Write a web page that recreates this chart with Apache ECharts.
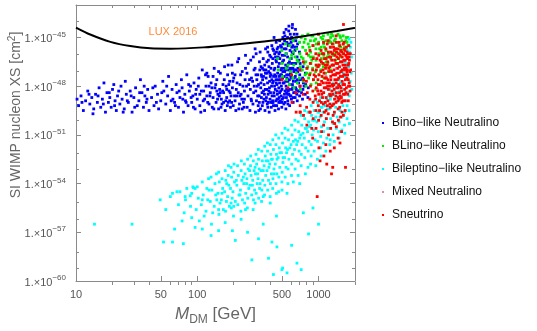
<!DOCTYPE html>
<html>
<head>
<meta charset="utf-8">
<script src="https://cdn.jsdelivr.net/npm/echarts@6/dist/echarts.min.js"></script>
<style>html,body{margin:0;padding:0;background:#fff}#main{width:537px;height:331px}</style>
</head>
<body>
<div id="main"></div>
<script>
// points: [mass in GeV, log10 of XS in cm^2]
var binoPts = [
  [10.2,-48.8],[10.5,-49.2],[11,-48.6],[11.2,-49.0],[11.5,-49.5],[12,-48.9],[12.5,-48.3],[12.8,-48.5],[13,-49.1],[13.5,-48.7],[13.8,-49.7],[14,-49.4],[14.5,-48.5],[15,-49.0],[15.2,-48.6],[15.5,-48.1],[16,-49.3],[16.5,-48.8],[16.8,-49.1],[17,-47.8],[17.5,-49.6],[18,-48.4],[18.5,-49.0],[18.8,-48.4],[19,-48.7],[19.5,-49.3],[20,-48.2],[20.5,-47.9],[20.8,-49.2],[21,-48.9],[21.5,-49.5],[22,-48.6],[22.5,-48.3],[23,-49.1],[23.5,-48.0],[24,-48.8],[24.5,-49.6],[25,-49.4],[25.5,-47.7],[26,-48.5],[26.5,-48.9],[27,-49.0],[28,-48.3],[28.5,-48.6],[29,-49.6],[30,-48.7],[30.5,-49.3],[31,-48.1],[32,-49.2],[33,-48.9],[33.5,-48.4],[34,-47.6],[35,-48.4],[36,-49.3],[36.5,-48.0],[37,-48.6],[38,-49.0],[38.5,-48.8],[39,-48.2],[40,-49.5],
  [42,-48.7],[43,-48.1],[44,-49.2],[45,-48.0],[46,-49.0],[47,-48.5],[48,-49.4],[50,-48.9],[51,-48.4],[52,-47.7],[53,-48.3],[55,-49.1],[56,-48.0],[57,-48.6],[58,-47.4],[60,-49.5],[61,-48.9],[62,-48.2],[63,-48.8],[65,-49.0],[66,-49.2],[67,-47.9],[68,-48.4],[70,-49.3],[71,-48.3],[72,-48.7],[74,-47.6],[75,-48.1],[76,-48.8],[77,-49.6],[79,-48.5],[80,-48.9],[81,-49.0],[82,-47.3],[84,-49.2],[85,-47.9],[86,-48.3],[88,-48.0],[89,-48.7],[90,-49.0],[92,-48.6],[93,-49.3],[94,-47.8],[96,-49.4],[97,-48.5],[98,-48.2],
  [100,-48.8],[102,-48.0],[103,-47.5],[105,-49.2],[107,-49.6],[108,-48.3],[110,-47.0],[112,-48.9],[113,-48.3],[115,-49.5],[117,-47.3],[118,-48.0],[120,-48.6],[122,-49.0],[123,-47.4],[125,-49.1],[127,-48.6],[128,-48.4],[130,-47.8],[132,-48.1],[133,-49.3],[135,-48.7],[137,-49.4],[138,-46.9],[140,-48.1],[142,-47.9],[143,-49.0],[145,-47.6],[147,-48.8],[148,-48.5],[150,-49.4],[152,-48.6],[153,-48.2],[155,-47.2],[157,-49.3],[158,-48.8],[160,-49.1],[162,-48.3],[163,-47.9],[165,-48.4],[167,-47.6],[168,-46.8],[170,-49.5],[172,-48.9],[173,-48.0],[175,-48.7],[177,-49.2],[178,-47.3],[180,-49.0],[182,-47.9],[183,-48.3],[185,-47.7],[187,-48.4],[188,-49.3],[190,-48.6],[192,-49.0],[193,-46.7],[195,-48.1],[197,-47.7],[198,-49.2],[200,-47.5],[203,-48.6],[205,-48.9],[208,-49.5],[210,-48.2],[213,-47.8],[215,-46.5],[218,-48.4],[220,-49.4],[223,-49.1],[225,-47.9],[228,-47.3],[230,-48.5],[233,-48.8],[235,-47.1],[238,-48.0],[240,-49.0],[243,-49.3],[245,-48.3],[248,-47.6],[250,-46.9],
  [258,-49.3],[262,-48.6],[265,-47.9],[257,-47.2],[263,-46.6],[272,-49.5],[278,-48.8],[274,-48.2],[280,-47.5],[276,-46.4],[288,-49.1],[292,-48.4],[286,-47.7],[294,-47.0],[290,-46.2],[302,-49.6],[308,-48.9],[304,-48.3],[310,-47.6],[300,-46.9],[306,-46.0],
  [318,-49.2],[324,-48.6],[320,-47.9],[316,-47.3],[326,-46.5],[332,-49.4],[338,-48.7],[334,-48.1],[340,-47.4],[336,-46.8],[330,-45.9],[348,-49.0],[352,-48.3],[346,-47.6],[354,-47.0],[350,-46.3],[362,-49.5],[368,-48.9],[364,-48.2],[370,-47.5],[360,-46.7],[366,-45.7],
  [378,-49.1],[384,-48.5],[380,-47.8],[376,-47.2],[386,-46.4],[382,-45.9],[392,-49.6],[398,-48.8],[394,-48.1],[400,-47.4],[390,-46.8],[396,-46.1],[408,-49.3],[414,-48.6],[410,-48.0],[406,-47.3],[416,-46.6],[412,-45.5],
  [422,-49.0],[428,-48.4],[424,-47.7],[430,-47.0],[420,-46.3],[426,-45.8],[438,-49.5],[444,-48.9],[440,-48.2],[446,-47.6],[436,-46.9],[442,-46.2],[448,-45.3],[452,-49.2],[458,-48.5],[454,-47.9],[460,-47.2],[450,-46.5],[456,-45.7],
  [468,-49.4],[474,-48.7],[470,-48.1],[476,-47.4],[466,-46.8],[472,-46.0],[478,-45.2],[482,-49.0],[488,-48.3],[484,-47.6],[490,-47.0],[480,-46.3],[486,-45.5],[498,-49.3],[504,-48.8],[500,-48.2],[506,-47.5],[496,-46.9],[502,-46.1],[508,-45.0],
  [518,-49.1],[524,-48.5],[520,-47.8],[526,-47.1],[516,-46.4],[522,-45.7],[528,-44.9],[538,-49.4],[544,-48.7],[540,-48.0],[546,-47.3],[536,-46.7],[542,-46.0],[548,-45.3],[558,-48.9],[564,-48.3],[560,-47.7],[566,-47.0],[556,-46.2],[562,-45.5],[568,-44.6],
  [578,-49.2],[584,-48.6],[580,-47.9],[586,-47.2],[576,-46.5],[582,-45.8],[588,-45.1],[598,-48.8],[604,-48.2],[600,-47.5],[606,-46.9],[596,-46.3],[602,-45.6],[608,-44.4],[618,-49.0],[624,-48.4],[620,-47.7],[626,-47.1],[616,-46.0],[622,-45.2],
  [642,-48.7],[648,-48.1],[644,-47.4],[650,-46.6],[640,-45.8],[646,-44.5],[668,-48.9],[674,-48.3],[670,-47.6],[676,-46.9],[666,-46.2],[672,-45.4],[698,-48.6],[704,-48.0],[700,-47.3],[706,-46.6],[696,-45.9],[738,-48.8],[744,-48.2],[740,-47.5],[746,-46.8],[778,-48.5],[784,-47.9],[780,-47.2],[818,-48.7],[824,-48.1],
  [430,-45.0],[520,-44.7],[570,-44.3],[610,-44.2],[540,-44.5],[380,-45.6],[300,-45.7],[250,-46.1],[220,-46.3],[180,-46.7],[150,-47.1],[120,-47.2],
  [312,-48.0],[328,-47.0],[342,-48.4],[356,-47.9],[372,-48.7],[388,-47.1],[402,-48.4],[418,-47.8],[432,-48.6],[447,-47.4],[462,-48.8],[477,-47.8],[492,-48.6],[510,-47.8],[530,-48.3],[550,-47.5],[570,-48.5],[590,-47.4],[612,-48.1],[632,-47.5],[655,-48.2],[685,-47.8],
  [325,-49.0],[345,-46.9],[365,-47.2],[385,-49.0],[405,-46.9],[425,-49.2],[445,-46.4],[465,-46.2],[485,-48.9],[505,-46.5],[525,-46.1],[545,-48.4],[565,-46.6],[585,-46.9],[605,-45.9],[625,-46.6],[650,-47.0],[690,-46.4],[715,-47.0],[760,-48.0],
  [335,-47.8],[355,-48.8],[375,-46.5],[395,-47.7],[415,-49.0],[435,-47.3],[455,-48.8],[475,-46.6],[495,-47.3],[515,-46.9],[535,-47.0],[555,-48.5],[575,-47.6],[595,-45.3],[615,-46.9],[635,-45.6],[660,-45.6],
  [295,-48.0],[280,-48.9],[270,-47.6],[255,-48.0],[245,-48.8],[235,-49.4],[225,-48.6],[212,-48.6],[205,-47.3],[195,-47.2],[185,-48.9],[175,-48.2],[165,-49.0],[155,-48.4],[145,-48.3],[135,-47.4],[125,-48.0],[115,-48.8],[105,-48.5],
  [305,-47.3],[315,-48.6],[322,-49.5],[338,-47.3],[344,-49.2],[352,-47.4],[358,-48.5],[368,-47.0],[374,-48.2],[382,-49.3],[390,-48.3],[398,-47.2],[404,-49.0],[412,-47.6],[418,-48.9],[426,-47.4],[434,-48.0],[440,-49.2],[448,-47.8],[456,-48.3],[464,-47.6],[470,-49.0],[478,-48.4],[486,-47.3],[494,-48.0],[500,-49.0],[508,-47.1],[514,-48.7],[522,-47.4],[530,-49.0],[538,-47.7],[546,-48.2],[552,-46.8],[560,-49.1],[568,-47.3],[576,-48.2],[584,-47.0],[592,-48.6],[600,-46.6],[610,-47.9],[620,-48.7],[630,-47.0],[640,-48.4],[652,-47.7],[662,-48.5],[675,-47.1],[690,-48.3],[710,-47.6],[725,-48.4],[750,-47.8],
  [405,-46.2],[420,-45.7],[435,-46.0],[450,-45.9],[465,-45.6],[480,-45.9],[495,-45.6],[510,-45.4],[525,-45.2],[540,-45.7],[555,-45.0],[570,-45.4],[585,-44.8],[600,-45.0],[615,-45.5],[630,-44.8],[650,-45.2],[665,-44.8]
];
var blinoPts = [
  [460,-46.3],[465,-47.0],[498,-45.8],[502,-46.6],[506,-47.4],[538,-46.0],[542,-46.9],[546,-47.6],[535,-45.4],[578,-45.5],[582,-46.3],[586,-47.1],[575,-47.9],
  [618,-45.2],[622,-45.9],[626,-46.7],[615,-47.5],[628,-48.1],[658,-45.0],[662,-45.7],[666,-46.4],[655,-47.2],[668,-47.8],[698,-45.3],[702,-46.0],[706,-46.8],[695,-47.5],[708,-48.2],
  [738,-44.9],[742,-45.6],[746,-46.3],[735,-47.0],[748,-47.7],[778,-45.1],[782,-45.8],[786,-46.5],[775,-47.3],[788,-48.0],[818,-44.8],[822,-45.4],[826,-46.1],[815,-46.8],[828,-47.5],
  [858,-45.2],[862,-45.9],[866,-46.6],[855,-47.2],[868,-47.9],[898,-44.9],[902,-45.5],[906,-46.2],[895,-46.9],[908,-47.6],[948,-45.1],[952,-45.7],[956,-46.4],[945,-47.1],[958,-47.8],
  [998,-44.8],[1002,-45.3],[1006,-46.0],[995,-46.7],[1008,-47.3],[1048,-45.0],[1052,-45.6],[1056,-46.3],[1045,-47.0],[1098,-44.9],[1102,-45.4],[1106,-46.1],[1095,-46.8],[1108,-47.5],
  [1148,-45.2],[1152,-45.8],[1156,-46.5],[1145,-47.2],[1198,-44.8],[1202,-45.3],[1206,-46.0],[1195,-46.6],[1258,-45.0],[1262,-45.6],[1266,-46.3],[1255,-47.0],
  [1318,-44.9],[1322,-45.4],[1326,-46.1],[1315,-46.7],[1378,-45.1],[1382,-45.7],[1386,-46.4],[1448,-44.8],[1452,-45.3],[1456,-46.0],[1445,-46.6],
  [1518,-45.0],[1522,-45.6],[1526,-46.2],[1598,-44.9],[1602,-45.4],[1606,-46.0],[1678,-45.2],[1682,-45.7],[1748,-45.0],[1752,-45.5],
  [720,-45.0],[880,-44.9],[1080,-45.1],[1280,-44.8],[1500,-44.9],[800,-47.2],[950,-48.2],[600,-46.1],
  [720,-46.2],[760,-45.3],[800,-46.9],[840,-45.6],[880,-46.4],[920,-45.2],[970,-46.8],[1020,-45.7],[1070,-46.6],[1120,-45.6],[1180,-46.2],[1230,-45.2],[1290,-46.0],[1350,-45.2],[1420,-45.9],[1480,-45.5],[1560,-45.2],[1640,-45.6],[1720,-45.3],
  [680,-46.5],[640,-46.2],[560,-46.7],[760,-46.6],[860,-46.2],[960,-45.4],[1060,-46.0],[1160,-46.8],[1260,-45.3],[1360,-46.0],[1460,-46.3],[1560,-45.8],[1700,-45.0]
];
var bileptinoPts = [
  [14.2,-56.5],[29,-56.5],[49.5,-55.0],[52.7,-57.6],[62.5,-57.6],[62.5,-54.6],[68,-54.5],[76.8,-57.7],[79.5,-54.8],[87.5,-54.75],[90,-56.1],[92,-54.2],[93,-54.25],[96,-54.3],[96,-56.7],
  [150,-56.9],[195,-56.9],[206,-57.5],[282,-58.7],[320,-57.4],[387,-58.6],[413,-57.6],[425,-59.6],[454,-57.9],[499,-59.3],[506,-59.2],[550,-59.5],[664,-58.9],[720,-59.3],[828,-57.1],[1000,-56.5],
  [60,-54.8],[70,-55.3],[72,-54.5],[80,-55.0],[82,-54.3],[78,-55.8],[90,-54.6],[88,-55.4],[100,-54.2],[102,-54.9],[98,-55.6],[104,-56.3],[110,-53.9],[112,-54.7],[108,-55.3],[114,-56.0],
  [120,-54.3],[122,-55.0],[118,-55.7],[124,-53.7],[130,-53.6],[132,-54.4],[128,-55.1],[134,-55.8],[131,-56.5],[140,-54.0],[142,-54.7],[138,-55.4],[144,-53.4],
  [150,-53.3],[152,-53.9],[148,-54.6],[154,-55.2],[151,-55.9],[160,-53.7],[162,-54.3],[158,-55.0],[164,-55.6],[170,-53.2],[172,-53.8],[168,-54.5],[174,-55.1],[171,-55.7],
  [180,-53.5],[182,-54.1],[178,-54.8],[184,-55.4],[181,-52.9],[190,-53.0],[192,-53.6],[188,-54.3],[194,-54.9],[191,-55.5],[200,-53.3],[203,-53.9],[197,-54.5],[206,-55.1],[201,-52.8],[199,-56.0],
  [215,-52.9],[218,-53.5],[212,-54.1],[221,-54.7],[216,-55.3],[230,-53.2],[233,-53.8],[227,-54.4],[236,-55.0],[231,-52.6],[229,-55.7],[245,-52.8],[248,-53.4],[242,-54.0],[251,-54.6],[246,-55.2],
  [260,-52.5],[263,-53.1],[257,-53.7],[266,-54.3],[261,-54.9],[259,-55.5],[275,-52.9],[278,-53.5],[272,-54.1],[281,-54.7],[276,-52.3],[290,-52.6],[294,-53.2],[287,-53.8],[297,-54.4],[291,-55.0],[289,-55.6],
  [305,-52.2],[309,-52.8],[302,-53.4],[312,-54.0],[306,-54.6],[320,-52.5],[324,-53.1],[317,-53.7],[327,-54.3],[321,-54.9],[319,-51.9],[340,-52.0],[344,-52.6],[336,-53.2],[347,-53.8],[341,-54.4],[339,-55.1],
  [360,-51.7],[364,-52.3],[356,-52.9],[367,-53.5],[361,-54.1],[359,-54.7],[380,-52.0],[384,-52.6],[376,-53.2],[387,-53.8],[381,-54.4],[379,-51.5],[400,-51.6],[405,-52.2],[396,-52.8],[409,-53.4],[401,-54.0],[399,-54.8],
  [420,-51.3],[425,-51.9],[416,-52.5],[429,-53.1],[421,-53.7],[419,-54.3],[445,-51.6],[450,-52.2],[440,-52.8],[454,-53.4],[446,-54.0],[444,-51.0],[470,-51.2],[475,-51.8],[465,-52.4],[479,-53.0],[471,-53.6],[469,-54.5],
  [500,-50.9],[505,-51.5],[495,-52.1],[509,-52.7],[501,-53.3],[499,-53.9],[530,-51.2],[536,-51.8],[525,-52.4],[540,-53.0],[531,-53.6],[529,-50.6],[560,-50.7],[566,-51.3],[555,-51.9],[570,-52.5],[561,-53.1],[559,-54.0],
  [600,-50.4],[606,-51.0],[594,-51.6],[611,-52.2],[601,-52.8],[599,-53.5],[640,-50.7],[646,-51.3],[634,-51.9],[651,-52.5],[641,-53.1],[639,-50.1],[680,-50.2],[687,-50.8],[674,-51.4],[692,-52.0],[681,-52.6],[679,-53.5],
  [720,-49.8],[727,-50.4],[714,-51.0],[733,-51.6],[721,-52.2],[719,-52.9],[770,-50.0],[778,-50.6],[763,-51.2],[784,-51.8],[771,-52.4],[769,-49.5],[820,-49.6],[828,-50.2],[812,-50.8],[835,-51.4],[821,-52.0],[819,-53.0],
  [870,-49.2],[878,-49.8],[862,-50.4],[886,-51.0],[871,-51.6],[869,-52.3],[920,-49.5],[929,-50.1],[911,-50.7],[937,-51.3],[921,-52.0],[919,-48.9],[980,-49.0],[990,-49.6],[970,-50.2],[998,-50.8],[981,-51.4],[979,-52.5],
  [1040,-48.7],[1050,-49.3],[1030,-49.9],[1060,-50.5],[1041,-51.1],[1039,-51.8],[1100,-48.4],[1111,-49.0],[1090,-49.6],[1120,-50.2],[1101,-50.8],[1099,-51.5],[1170,-48.8],[1181,-49.4],[1158,-50.0],[1191,-50.6],[1171,-51.2],[1169,-48.1],
  [1240,-48.2],[1252,-48.8],[1228,-49.4],[1262,-50.0],[1241,-50.6],[1239,-51.6],[1320,-47.8],[1333,-48.5],[1307,-49.1],[1344,-49.7],[1321,-50.3],[1319,-51.0],[1400,-48.1],[1414,-48.7],[1386,-49.3],[1425,-49.9],[1401,-50.6],
  [1480,-47.6],[1495,-48.3],[1465,-48.9],[1507,-49.5],[1481,-50.2],[1479,-51.2],[1560,-47.0],[1576,-47.9],[1544,-48.6],[1588,-49.2],[1561,-49.9],[1559,-50.7],[1640,-46.5],[1657,-47.4],[1623,-48.2],[1670,-48.9],[1641,-49.6],[1639,-50.4],
  [1720,-45.8],[1737,-46.6],[1703,-47.5],[1752,-48.4],[1721,-49.2],[1719,-50.0],[1790,-45.1],[1808,-45.9],[1772,-46.8],[1823,-47.7],[1791,-48.6],[1789,-49.5],[1850,-45.3],[1870,-46.2],[1860,-47.2],[1880,-48.2],
  [110,-55.0],[125,-54.4],[145,-55.0],[160,-54.6],[175,-54.0],[190,-55.2],[210,-53.8],[225,-54.7],[240,-53.6],[255,-54.0],[270,-53.2],[285,-54.1],[300,-53.0],[315,-53.4],[330,-54.0],[350,-53.2],[370,-52.6],[390,-53.0],[410,-52.5],[430,-53.4],[455,-52.5],[480,-52.1],[510,-52.4],[545,-52.1],[580,-51.8],[620,-51.4],[660,-51.6],[700,-51.2],[745,-50.9],[795,-50.6],[845,-50.5],[895,-50.1],[950,-49.9],[1010,-49.6],[1070,-49.3],[1135,-49.2],[1205,-48.6],[1280,-48.6],[1360,-48.4],[1440,-48.0],[1520,-47.8],[1600,-47.2],[1680,-46.8],[1760,-46.3],[1830,-45.6],
  [150,-55.6],[200,-55.4],[250,-55.6],[300,-55.2],[350,-54.8],[400,-55.2],[450,-54.6],[500,-54.4],[550,-54.6],[620,-53.9],[700,-54.0],[780,-53.4],[860,-52.8],[950,-52.9],[1050,-52.3],[1150,-52.0],[1250,-51.3],[1350,-51.4],[1500,-50.8],[1650,-50.9],[1800,-50.3],
  [55,-55.6],[65,-56.8],[75,-56.3],[110,-56.8],[130,-57.2],[170,-56.4],[230,-56.2],[260,-57.0],[350,-56.5],[450,-56.0],[600,-57.8],[750,-55.8],[900,-55.5]
];
var mixedPts = [
  [980,-48.2],[1150,-47.4],[1400,-46.9],[1600,-47.8]
];
var sneutrinoPts = [
  [500,-47.6],[560,-48.1],[600,-47.3],[604,-49.0],[650,-48.4],[654,-49.6],[700,-47.0],[704,-48.0],[706,-49.2],[706,-49.6],
  [750,-46.5],[754,-47.6],[746,-48.5],[752,-49.8],[800,-46.0],[805,-46.9],[795,-47.7],[808,-48.4],[798,-49.3],[802,-50.4],
  [850,-45.8],[855,-46.6],[845,-47.3],[858,-48.0],[848,-48.8],[852,-49.6],[850,-49.6],[900,-45.5],[905,-46.3],[895,-47.0],[908,-47.6],[898,-48.3],[902,-49.0],[904,-50.0],[896,-51.2],
  [950,-46.0],[955,-46.7],[945,-47.4],[958,-48.1],[948,-48.8],[952,-49.5],[954,-50.6],[1000,-45.4],[1006,-46.1],[994,-46.8],[1010,-47.3],[998,-47.9],[1004,-48.5],[996,-49.2],[1002,-50.1],[1008,-51.8],
  [1050,-45.8],[1056,-46.5],[1044,-47.1],[1060,-47.7],[1048,-48.3],[1054,-49.0],[1052,-49.8],[1100,-45.3],[1106,-46.0],[1094,-46.6],[1110,-47.2],[1098,-47.8],[1104,-48.4],[1096,-49.1],[1102,-50.4],[1108,-52.3],
  [1150,-45.7],[1157,-46.3],[1143,-46.9],[1162,-47.5],[1148,-48.1],[1155,-48.7],[1153,-49.5],[1200,-45.2],[1207,-45.9],[1193,-46.5],[1212,-47.1],[1198,-47.6],[1205,-48.2],[1196,-48.9],[1203,-49.7],[1210,-51.0],
  [1250,-45.6],[1258,-46.2],[1242,-46.8],[1263,-47.4],[1248,-48.0],[1255,-48.6],[1252,-49.3],[1300,-45.4],[1308,-46.0],[1292,-46.7],[1314,-47.3],[1298,-47.9],[1306,-48.5],[1296,-49.2],[1304,-50.2],[1310,-53.0],
  [1350,-45.8],[1358,-46.4],[1342,-47.0],[1364,-47.6],[1348,-48.2],[1356,-48.8],[1352,-49.6],[1400,-45.3],[1409,-45.9],[1391,-46.6],[1415,-47.2],[1398,-47.8],[1406,-48.4],[1396,-49.0],[1404,-50.5],
  [1450,-45.7],[1459,-46.3],[1441,-46.9],[1466,-47.5],[1448,-48.1],[1456,-48.7],[1452,-49.4],[1500,-45.5],[1510,-46.1],[1490,-46.8],[1516,-47.4],[1498,-48.0],[1506,-48.6],[1496,-49.3],[1504,-51.5],
  [1550,-45.9],[1560,-46.5],[1540,-47.1],[1566,-47.7],[1548,-48.3],[1556,-49.0],[1600,-45.4],[1610,-46.0],[1590,-46.7],[1617,-47.3],[1598,-47.9],[1606,-48.5],[1604,-49.8],
  [1650,-45.8],[1661,-46.4],[1639,-47.0],[1667,-47.6],[1648,-48.2],[1656,-48.9],[1700,-45.6],[1711,-46.2],[1689,-46.9],[1718,-47.5],[1698,-48.1],[1750,-46.0],[1762,-46.7],[1738,-47.3],[1768,-48.0],[1800,-46.4],[1812,-47.1],
  [1607,-44.2],[1000,-44.8],[1400,-44.9],
  [706,-49.6],[1030,-52.6],[1170,-52.8],[1670,-53.0],[1280,-53.4],[975,-54.8],[1150,-51.6],[1350,-51.8],[1450,-51.2],[1250,-52.0],[880,-50.6],[1550,-50.8],
  [920,-47.3],[940,-48.6],[970,-46.3],[990,-47.6],[1020,-48.9],[1030,-46.4],[1070,-47.4],[1080,-48.7],[1120,-46.3],[1130,-47.5],[1140,-49.0],[1180,-46.7],[1190,-48.0],[1220,-46.2],[1230,-47.8],[1240,-49.1],[1270,-45.9],[1280,-47.1],[1290,-48.3],[1330,-46.7],[1340,-47.9],[1370,-46.1],[1380,-47.3],[1390,-48.6],[1420,-46.2],[1430,-47.6],[1440,-48.9],[1470,-46.0],[1480,-47.2],[1490,-48.4],[1520,-45.8],[1530,-47.1],[1545,-48.7],[1570,-46.2],[1580,-47.4],[1620,-45.7],[1630,-46.9],[1645,-48.5],[1675,-46.1],[1690,-47.3],[1720,-45.9],[1730,-47.0],[1740,-48.5],[1780,-46.6],[1790,-47.8],[1830,-46.0],[1840,-47.0],[1820,-48.3],
  [1060,-50.8],[1160,-50.0],[1260,-50.6],[1360,-50.3],[1460,-50.1],[1560,-49.6],[1660,-49.5],[1760,-48.9],[1120,-49.6],[1320,-49.8],[1520,-49.9],[1020,-49.5],[1080,-46.0],[1180,-45.4],[1330,-45.6],[1480,-45.3],[1630,-45.3],[1780,-45.5],
  [960,-47.0],[985,-48.3],[1015,-46.7],[1035,-47.9],[1065,-48.5],[1090,-47.0],[1115,-48.1],[1135,-46.7],[1165,-47.8],[1185,-49.2],[1215,-46.9],[1235,-48.5],[1265,-47.6],[1285,-46.4],[1315,-48.0],[1335,-49.1],[1365,-47.3],[1385,-45.7],[1415,-48.1],[1435,-46.6],[1465,-47.9],[1485,-48.8],[1515,-46.5],[1535,-48.1],[1565,-47.0],[1585,-48.9],[1615,-46.4],[1640,-47.9],[1665,-46.7],[1685,-48.4],[1715,-47.1],[1735,-46.3],[1760,-47.6],[1790,-46.2],[1810,-48.0]
];

var luxMass = [10, 13.1, 19.2, 28, 41, 60, 113, 212, 400, 752, 1419, 1968, 2000];
var luxXs = [-44.39, -44.82, -45.27, -45.53, -45.67, -45.69, -45.61, -45.42, -45.20, -44.92, -44.60, -44.42, -44.41];

var seriesNames = ['Bino−like Neutralino', 'BLino−like Neutralino', 'Bileptino−like Neutralino', 'Mixed Neutralino', 'Sneutrino'];
var seriesColors = ['#0000ff', '#00ee00', '#00ffff', '#e58aa8', '#ff0000'];
var seriesPts = [binoPts, blinoPts, bileptinoPts, mixedPts, sneutrinoPts];

var xLabelVals = [10, 50, 100, 500, 1000];
var xMinorVals = [20, 30, 40, 60, 70, 80, 90, 200, 300, 400, 600, 700, 800, 900, 2000];
var yLabelVals = [-60, -57, -54, -51, -48, -45];
var yMinorVals = [-59, -58, -56, -55, -53, -52, -50, -49, -47, -46, -44];

var lg = Math.log10;
var xMin = 1, xMax = lg(2000), yMin = -60, yMax = -43;
var frameCol = '#8a8a8a';
var labelCol = '#555';

function xAxisCfg(grid, pos, tickVals, len, withLabel) {
    var a = {
        gridIndex: grid, type: 'value', position: pos, min: xMin, max: xMax,
        splitLine: {show: false},
        axisLine: {show: grid === 0, lineStyle: {color: frameCol, width: 1}},
        axisTick: {show: true, inside: true, length: len, customValues: tickVals.map(lg), lineStyle: {color: frameCol}},
        axisLabel: {show: false}
    };
    if (withLabel) {
        a.axisLabel = {
            show: true, customValues: xLabelVals.map(lg), margin: 8,
            color: labelCol, fontSize: 11, fontFamily: 'Liberation Sans',
            formatter: function (v) { return String(Math.round(Math.pow(10, v))); }
        };
        a.name = '{i|M}{s|DM} [GeV]';
        a.nameLocation = 'middle';
        a.nameGap = 25;
        a.nameTextStyle = {
            color: '#666', fontSize: 17, fontFamily: 'Liberation Sans',
            rich: {
                i: {fontSize: 17, fontStyle: 'italic', color: '#666', fontFamily: 'Liberation Sans', verticalAlign: 'bottom'},
                s: {fontSize: 12, color: '#666', fontFamily: 'Liberation Sans', verticalAlign: 'bottom', padding: [0, 0, -3, 0]}
            }
        };
    }
    return a;
}

function yAxisCfg(grid, pos, tickVals, len, withLabel) {
    var a = {
        gridIndex: grid, type: 'value', position: pos, min: yMin, max: yMax,
        splitLine: {show: false},
        axisLine: {show: grid === 0, lineStyle: {color: frameCol, width: 1}},
        axisTick: {show: true, inside: true, length: len, customValues: tickVals, lineStyle: {color: frameCol}},
        axisLabel: {show: false}
    };
    if (withLabel) {
        a.axisLabel = {
            show: true, customValues: yLabelVals, margin: 10,
            formatter: function (v) { return '{a|1.×10}{b|−' + Math.abs(Math.round(v)) + '}'; },
            rich: {
                a: {fontSize: 11, color: labelCol, fontFamily: 'Liberation Sans', verticalAlign: 'bottom'},
                b: {fontSize: 8, color: labelCol, fontFamily: 'Liberation Sans', verticalAlign: 'bottom', padding: [0, 0, 6, 0]}
            }
        };
    }
    return a;
}

var chart = echarts.init(document.getElementById('main'));

var series = seriesNames.map(function (name, i) {
    return {
        name: name, type: 'scatter', xAxisIndex: 0, yAxisIndex: 0,
        symbol: 'rect', symbolSize: 2.8, silent: true,
        itemStyle: {color: seriesColors[i], opacity: 1},
        data: seriesPts[i].map(function (p) { return [lg(p[0]), p[1]]; })
    };
});
series.push({
    name: 'LUX 2016', type: 'line', xAxisIndex: 0, yAxisIndex: 0,
    smooth: 0.3, showSymbol: false, silent: true, z: 5,
    lineStyle: {color: '#000', width: 2},
    data: luxMass.map(function (m, i) { return [lg(m), luxXs[i]]; })
});

var option = {
    animation: false,
    backgroundColor: '#fff',
    grid: [
        {left: 76, top: 5, width: 279, height: 280},
        {left: 76, top: 5, width: 279, height: 280}
    ],
    xAxis: [
        xAxisCfg(0, 'bottom', xLabelVals, 5, true),
        xAxisCfg(0, 'top', xLabelVals, 5, false),
        xAxisCfg(1, 'bottom', xMinorVals, 3, false),
        xAxisCfg(1, 'top', xMinorVals, 3, false)
    ],
    yAxis: [
        yAxisCfg(0, 'left', yLabelVals, 5, true),
        yAxisCfg(0, 'right', yLabelVals, 5, false),
        yAxisCfg(1, 'left', yMinorVals, 3, false),
        yAxisCfg(1, 'right', yMinorVals, 3, false)
    ],
    legend: {
        data: seriesNames,
        orient: 'vertical', left: 377, top: 111,
        icon: 'rect', itemWidth: 2, itemHeight: 2, itemGap: 9,
        selectedMode: false,
        textStyle: {color: '#111', fontSize: 12, fontFamily: 'Liberation Sans', lineHeight: 14, padding: [0, 0, 0, 3]}
    },
    graphic: [
        {
            type: 'text', x: 173, y: 32, silent: true,
            style: {text: 'LUX 2016', fill: '#ff8c3a', font: '11px "Liberation Sans"', align: 'center', verticalAlign: 'middle'}
        },
        {
            type: 'text', x: 15, y: 115, rotation: Math.PI / 2, silent: true,
            style: {
                text: '{t|SI WIMP nucleon XS [cm}{u|2}{t|]}',
                align: 'center', verticalAlign: 'middle',
                rich: {
                    t: {fontSize: 14, fill: '#666', fontFamily: 'Liberation Sans', verticalAlign: 'bottom'},
                    u: {fontSize: 10, fill: '#666', fontFamily: 'Liberation Sans', verticalAlign: 'bottom', padding: [0, 0, 6, 0]}
                }
            }
        }
    ],
    series: series
};

chart.setOption(option);
</script>
</body>
</html>
